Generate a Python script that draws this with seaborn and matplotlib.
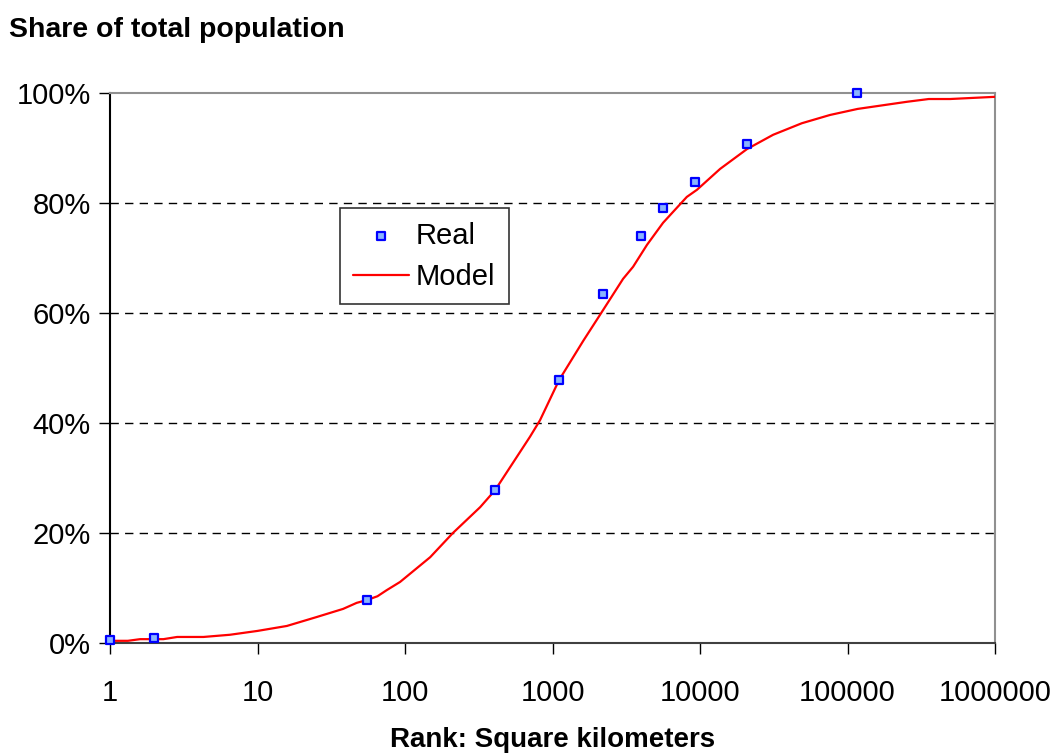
"""Share of total population vs rank (square kilometers), log scale."""
import matplotlib
matplotlib.use("Agg")
import matplotlib.pyplot as plt
import pandas as pd
import seaborn as sns
from matplotlib.ticker import FixedLocator, FuncFormatter, NullLocator

# observed points
real_x = [1, 2, 55, 408, 1107, 2200, 3985, 5613, 9250, 20830, 116000]
real_y = [0.5, 0.9, 7.8, 27.8, 47.8, 63.5, 74.0, 79.1, 83.8, 90.7, 100.0]

# fitted curve
model_x = [1, 1.32, 1.6, 2.3, 2.85, 4.3, 6.5, 10, 15.8, 25, 38, 47, 55, 65, 75,
           92.5, 148, 211, 323, 408, 703, 822, 1107, 1620, 2090, 3005, 3515,
           4370, 5613, 8130, 9530, 13680, 20800, 31300, 49000, 76000, 117000,
           253000, 355000, 495000, 1000000]
model_y = [0.4, 0.4, 0.7, 0.7, 1.1, 1.1, 1.5, 2.2, 3.1, 4.7, 6.2, 7.3, 7.8, 8.5,
           9.6, 11.1, 15.6, 20.0, 24.7, 27.8, 37.5, 40.5, 47.8, 55.0, 59.6,
           66.2, 68.4, 72.4, 76.4, 81.1, 82.4, 86.2, 89.8, 92.4, 94.5, 96.0,
           97.1, 98.4, 98.9, 98.9, 99.3]

x_ticks = [1, 10, 100, 1000, 10000, 100000, 1000000]
y_ticks = [0, 20, 40, 60, 80, 100]

sns.set_theme(style="white")
plt.rcParams["font.family"] = ["Liberation Sans", "DejaVu Sans"]
plt.rcParams["text.color"] = "black"
plt.rcParams["xtick.color"] = "black"
plt.rcParams["ytick.color"] = "black"
plt.rcParams["axes.labelcolor"] = "black"

real = pd.DataFrame({"x": real_x, "y": real_y})
model = pd.DataFrame({"x": model_x, "y": model_y})

fig = plt.figure(figsize=(10.53, 7.54), dpi=100)
ax = fig.add_axes([0.1045, 0.1472, 0.8405, 0.7295])

sns.lineplot(data=model, x="x", y="y", ax=ax, color="#ff0000", linewidth=1.6,
             label="Model", estimator=None, sort=False, zorder=3)
sns.scatterplot(data=real, x="x", y="y", ax=ax, marker="s", s=40,
                facecolor="#8ab4ff", edgecolor="#0000ff", linewidth=1.6,
                label="Real", zorder=5, clip_on=False)

ax.set_xscale("log")
ax.set_xlim(1, 1000000)
ax.set_ylim(0, 100)
ax.xaxis.set_major_locator(FixedLocator(x_ticks))
ax.xaxis.set_minor_locator(NullLocator())
ax.xaxis.set_major_formatter(FuncFormatter(lambda v, _: f"{int(round(v))}"))
ax.yaxis.set_major_locator(FixedLocator(y_ticks))
ax.yaxis.set_major_formatter(FuncFormatter(lambda v, _: f"{int(v)}%"))

for yv in y_ticks[1:-1]:
    ax.axhline(yv, color="black", linestyle=(0, (6, 4.5)), linewidth=1.0, zorder=1)

ax.tick_params(axis="x", which="major", bottom=True, direction="out", length=8,
               width=1, pad=18, labelsize=21, color="black")
ax.tick_params(axis="y", which="major", left=True, direction="out", length=8,
               width=1, pad=6, labelsize=21, color="black")

ax.spines["left"].set_color("black")
ax.spines["bottom"].set_color("#404040")
ax.spines["top"].set_color("#909090")
ax.spines["right"].set_color("#909090")
for sp in ax.spines.values():
    sp.set_linewidth(1.5)

ax.set_ylabel("")
ax.set_xlabel("Rank: Square kilometers", fontsize=20, fontweight="bold", labelpad=14)
fig.text(0.009, 0.96, "Share of total population", fontsize=20.5, fontweight="bold",
         ha="left", va="center")

handles, labels = ax.get_legend_handles_labels()
order = [labels.index("Real"), labels.index("Model")]
leg = ax.legend([handles[i] for i in order], [labels[i] for i in order],
                loc="upper left", bbox_to_anchor=(0.26, 0.79), fontsize=21,
                frameon=True, fancybox=False, edgecolor="black",
                handlelength=1.9, handletextpad=0.25, borderpad=0.45,
                borderaxespad=0, labelspacing=0.45)
leg.get_frame().set_linewidth(1.2)

fig.savefig("out.png", dpi=100)
